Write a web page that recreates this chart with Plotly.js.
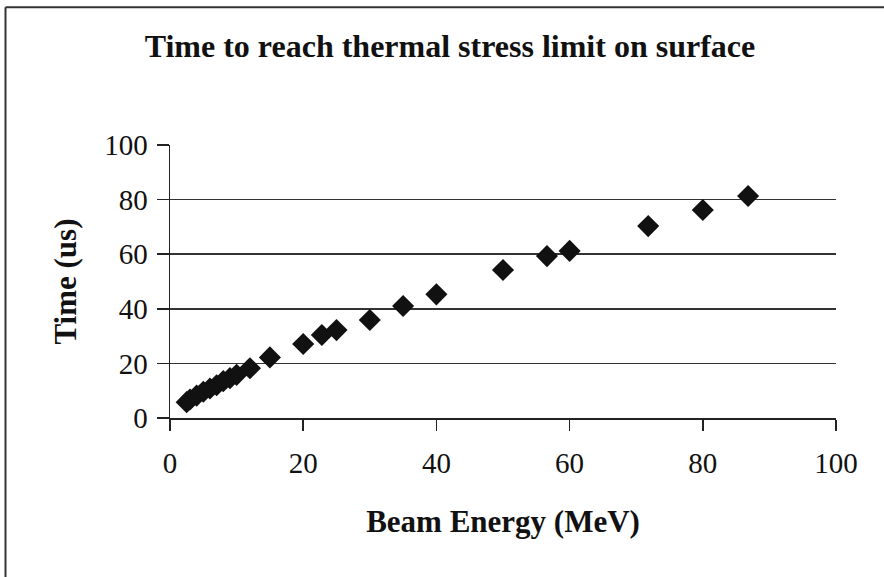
<!DOCTYPE html>
<html>
<head>
<meta charset="utf-8">
<script src="https://cdn.plot.ly/plotly-3.0.1.min.js"></script>
<style>html,body{margin:0;padding:0;background:#fff;}#chart{width:884px;height:577px;}</style>
</head>
<body>
<div id="chart"></div>
<script>
// Data
var beamEnergy = [2.5, 3, 4, 5, 6, 7, 8, 9, 10, 12, 15, 20, 22.8, 25, 30, 35, 40, 50, 56.6, 60, 71.8, 80, 86.8];
var timeUs     = [5.8, 6.8, 8.2, 9.6, 10.8, 12.0, 13.5, 14.6, 15.8, 18.2, 22.2, 27.1, 30.4, 32.2, 35.9, 41.0, 45.3, 54.2, 59.3, 61.2, 70.3, 76.2, 81.3];
var tickValues = [0, 20, 40, 60, 80, 100];
var chartTitle = "Time to reach thermal stress limit on surface";
var xTitle = "Beam Energy (MeV)";
var yTitle = "Time (us)";

var serif = "Liberation Serif, Times New Roman, serif";

var trace = {
  x: beamEnergy,
  y: timeUs,
  type: "scatter",
  mode: "markers",
  marker: {symbol: "diamond", size: 17, color: "#111111", line: {width: 0}},
  showlegend: false,
  hoverinfo: "x+y"
};

var layout = {
  width: 884,
  height: 577,
  margin: {l: 170, r: 48, t: 145, b: 159},
  paper_bgcolor: "#ffffff",
  plot_bgcolor: "#ffffff",
  font: {family: serif, color: "#111111"},
  title: {
    text: "<b>" + chartTitle + "</b>",
    font: {family: serif, size: 32, color: "#111111"},
    xref: "container", x: 0.509, xanchor: "center",
    yref: "container", y: 0.92, yanchor: "middle"
  },
  xaxis: {
    range: [0, 100],
    tickvals: tickValues,
    ticktext: tickValues.map(String),
    ticks: "outside", ticklen: 11, tickwidth: 1.5, tickcolor: "#222222",
    ticklabelstandoff: 8,
    showline: true, linecolor: "#222222", linewidth: 1.5,
    showgrid: false, zeroline: false,
    tickfont: {family: serif, size: 29, color: "#111111"},
    title: {text: "<b>" + xTitle + "</b>", font: {family: serif, size: 31, color: "#111111"}, standoff: 32},
    fixedrange: true
  },
  yaxis: {
    range: [0, 100],
    tickvals: tickValues,
    ticktext: tickValues.map(String),
    ticks: "outside", ticklen: 12, tickwidth: 1.5, tickcolor: "#222222",
    ticklabelstandoff: 3,
    showline: true, linecolor: "#222222", linewidth: 1.5,
    showgrid: true, gridcolor: "#333333", gridwidth: 1.5,
    zeroline: false,
    tickfont: {family: serif, size: 29, color: "#111111"},
    title: {text: "<b>" + yTitle + "</b>", font: {family: serif, size: 31, color: "#111111"}, standoff: 18},
    fixedrange: true
  },
  shapes: [
    {type: "line", xref: "paper", yref: "paper", x0: -0.247, x1: 1.08, y0: 1.505, y1: 1.505, line: {color: "#333333", width: 2}},
    {type: "line", xref: "paper", yref: "paper", x0: -0.247, x1: -0.247, y0: 1.505, y1: -0.6, line: {color: "#333333", width: 2}}
  ]
};

Plotly.newPlot("chart", [trace], layout, {displayModeBar: false, staticPlot: true});
</script>
</body>
</html>
